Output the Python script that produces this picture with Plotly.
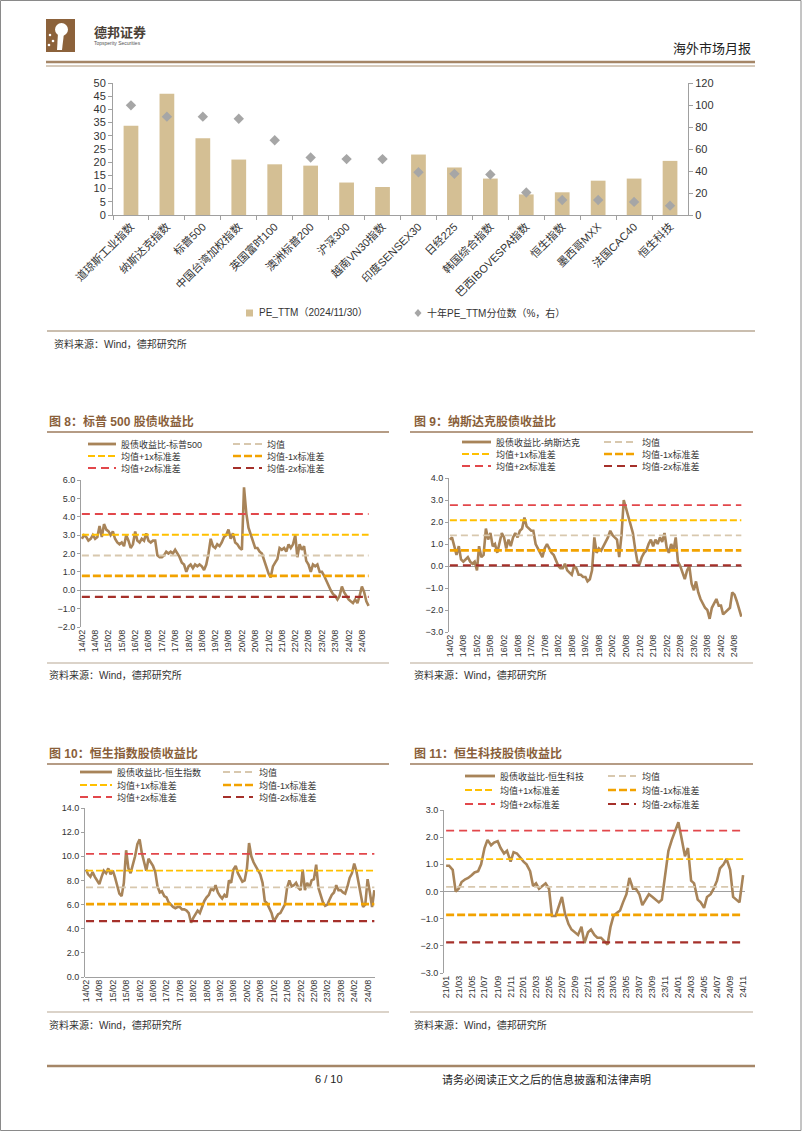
import plotly.graph_objects as go
import pandas as pd

W, H = 802, 1133


def X(p):
    return p / W


def Y(p):
    return 1 - p / H


FONT = "Liberation Sans, Arial, Noto Sans CJK SC, sans-serif"
TXT = "#333333"
AXIS_GRAY = "#A0A0A0"
TITLE_C = "#8A5F3A"
RULE_C = "#9C7B5C"
BAR_C = "#D4BF94"
DIAM_C = "#A6A6A6"
BROWN = "#A88459"
C_MEAN = "#D8C8AE"
C_P1 = "#FFC000"
C_M1 = "#F2A200"
C_P2 = "#E2474B"
C_M2 = "#A5302A"

# ---------------- top chart data ----------------
pe_names = ["道琼斯工业指数", "纳斯达克指数", "标普500", "中国台湾加权指数", "英国富时100",
            "澳洲标普200", "沪深300", "越南VN30指数", "印度SENSEX30", "日经225",
            "韩国综合指数", "巴西IBOVESPA指数", "恒生指数", "墨西哥MXX", "法国CAC40", "恒生科技"]
pe_ttm = [33.8, 45.9, 29.1, 21.0, 19.2, 18.7, 12.3, 10.6, 22.9, 18.0, 13.8, 7.8, 8.6, 13.0, 13.8, 20.5]
pe_pct = [99.7, 89.4, 89.4, 87.5, 68.0, 52.3, 50.8, 50.8, 38.9, 37.4, 36.8, 20.4, 13.7, 13.7, 11.9, 8.5]
pe_legend = ["PE_TTM（2024/11/30）", "十年PE_TTM分位数（%，右）"]

# ---------------- line charts data ----------------
ticks_14 = ["14/02", "14/08", "15/02", "15/08", "16/02", "16/08", "17/02", "17/08", "18/02", "18/08",
            "19/02", "19/08", "20/02", "20/08", "21/02", "21/08", "22/02", "22/08", "23/02", "23/08",
            "24/02", "24/08"]
ticks_21 = ["21/01", "21/03", "21/05", "21/07", "21/09", "21/11", "22/01", "22/03", "22/05", "22/07",
            "22/09", "22/11", "23/01", "23/03", "23/05", "23/07", "23/09", "23/11", "24/01", "24/03",
            "24/05", "24/07", "24/09", "24/11"]

sp500_erp = [2.8, 3.0, 2.9, 2.7, 2.8, 3.0, 2.8, 2.9, 3.5, 2.9, 3.6, 3.3,
             3.2, 3.0, 3.2, 2.8, 2.6, 2.5, 2.6, 2.4, 3.0, 2.7, 2.3, 2.5,
             3.2, 2.7, 2.6, 2.8, 2.7, 3.1, 2.7, 2.6, 2.7, 2.7, 1.9, 1.8,
             1.8, 1.9, 2.1, 2.0, 2.1, 2.0, 2.2, 2.0, 1.8, 1.5, 1.4, 1.0,
             1.3, 1.4, 1.2, 1.4, 1.3, 1.4, 1.3, 1.1, 1.4, 2.0, 2.8, 2.4,
             2.3, 2.5, 2.4, 2.6, 2.9, 3.0, 3.3, 2.8, 3.1, 2.6, 2.5, 2.3,
             2.2, 5.6, 4.2, 3.4, 3.0, 2.6, 2.3, 2.3, 2.1, 2.0, 1.6, 1.2,
             0.9, 0.7, 1.3, 1.5, 1.7, 2.3, 2.2, 2.3, 2.1, 2.5, 2.3, 2.5,
             3.0, 1.8, 2.5, 2.2, 2.4, 1.6, 1.4, 1.0, 1.4, 1.3, 1.4, 1.0,
             1.0, 0.8, 0.5, 0.3, 0.0, -0.2, -0.3, -0.5, -0.3, 0.2, -0.1, -0.3,
             -0.5, -0.6, -0.7, -0.5, -0.7, -0.3, 0.2, -0.1, -0.6, -0.85]
sp500_levels = [1.89, 3.02, 0.78, 4.15, -0.36]   # mean, +1x, -1x, +2x, -2x

nasdaq_erp = [1.2, 1.3, 0.9, 0.5, 0.9, 0.3, 0.2, 0.3, 0.4, 0.2, 0.1, 0.2,
              -0.2, 0.9, 0.4, 0.5, 1.7, 1.2, 1.5, 0.9, 1.0, 0.6, 1.1, 1.5,
              1.3, 0.8, 1.2, 0.9, 1.3, 1.5, 1.3, 1.6, 1.7, 2.2, 1.8, 1.7,
              1.6, 1.6, 1.0, 0.8, 0.6, 0.4, 0.8, 1.0, 0.8, 0.6, 0.5, 0.2,
              0.0, -0.1, -0.1, 0.1, -0.2, -0.3, -0.4, 0.0, -0.1, -0.4, -0.4, -0.5,
              -0.5, -0.7, -0.6, -0.2, 1.3, 0.6, 0.8, 0.7, 0.9, 1.1, 1.3, 1.6,
              1.4, 1.3, 1.2, 0.4, 1.4, 3.0, 2.6, 2.2, 1.8, 1.5, 0.8, 0.2,
              0.1, 0.4, 0.6, 0.7, 1.0, 1.2, 0.9, 1.2, 1.0, 1.3, 1.1, 1.5,
              0.8, 0.6, 1.0, 0.7, 1.3, 0.2, 0.0, -0.3, -0.6, -0.2, 0.0, -0.8,
              -1.1, -0.7, -1.2, -1.5, -1.7, -1.9, -2.0, -2.4, -1.9, -1.7, -1.5, -1.8,
              -1.8, -2.2, -2.1, -2.0, -1.9, -1.2, -1.3, -1.6, -2.0, -2.3]
nasdaq_levels = [1.39, 2.08, 0.71, 2.77, 0.03]

hsi_erp = [8.9, 8.5, 8.3, 8.7, 8.3, 8.0, 7.7, 8.3, 8.8, 8.6, 9.0, 8.5,
           8.8, 8.3, 7.5, 6.9, 6.7, 7.8, 10.5, 9.0, 8.6, 9.3, 10.0, 11.0,
           11.4, 10.3, 9.5, 8.8, 9.8, 9.5, 9.2, 8.7, 7.5, 7.0, 7.1, 6.7,
           6.6, 6.2, 6.0, 5.8, 5.7, 5.8, 5.8, 5.6, 5.6, 5.5, 5.3, 4.5,
           4.9, 5.2, 5.5, 5.3, 5.8, 6.3, 6.6, 6.8, 7.3, 7.2, 7.6, 7.0,
           6.7, 6.5, 6.8, 6.6, 8.0, 7.8, 8.9, 9.2, 8.6, 8.3, 7.9, 8.0,
           9.0, 11.1, 10.0, 9.5, 9.2, 8.8, 8.5, 7.8, 6.3, 6.1, 5.7, 5.3,
           4.6, 4.9, 5.2, 5.3, 5.6, 6.0, 7.4, 8.0, 7.5, 7.6, 7.8, 7.4,
           7.2, 8.9, 7.2, 7.8, 7.4, 8.0, 8.1, 9.3, 7.4, 6.8, 6.2, 5.9,
           6.0, 6.4, 6.8, 7.0, 7.6, 7.2, 7.2, 7.0, 6.9, 7.5, 8.2, 8.6,
           9.4, 8.8, 7.8, 6.5, 5.8, 6.0, 8.1, 7.0, 5.8, 7.2]
hsi_levels = [7.43, 8.82, 6.04, 10.2, 4.63]

hstech_erp = [0.95, 0.95, 0.8, 0.0, 0.1, 0.35, 0.45, 0.5, 0.6, 0.7, 0.75, 1.0,
              1.6, 1.9, 1.7, 1.8, 1.85, 1.6, 1.4, 1.5, 1.1, 1.45, 1.4, 1.25,
              1.1, 1.0, 0.75, 0.2, 0.3, 0.1, 0.2, 0.3, 0.1, -0.9, -0.9, -0.6,
              -0.2, -0.8, -1.2, -1.4, -1.5, -1.6, -1.3, -1.9, -1.5, -1.4, -1.6, -1.7,
              -1.7, -1.8, -1.95, -1.3, -0.9, -0.8, -0.7, -0.4, -0.1, 0.5, 0.1, 0.1,
              -0.1, -0.5, -0.3, -0.1, -0.2, -0.3, -0.4, -0.3, 0.7, 1.5, 1.9, 2.2,
              2.55, 2.0, 1.3, 1.6, 0.4, 0.3, -0.3, -0.4, -0.6, -0.2, -0.1, 0.1,
              0.4, 0.85, 1.0, 1.2, 0.8, -0.2, -0.3, -0.4, 0.6]
hstech_levels = [0.17, 1.19, -0.86, 2.24, -1.87]

level_names = ["均值", "均值+1x标准差", "均值-1x标准差", "均值+2x标准差", "均值-2x标准差"]
level_styles = [(C_MEAN, 1.8, "7px,4px"), (C_P1, 1.8, "7px,3px"), (C_M1, 2.6, "8px,3px"),
                (C_P2, 1.8, "8px,5px"), (C_M2, 2.2, "8px,5px")]

monthly = pd.date_range("2014-02-01", periods=130, freq="MS")
semi = pd.date_range("2021-01-01", periods=len(hstech_erp), freq="SMS")


def tick_dates(labels):
    return ["20%s-%s-01" % (t.split("/")[0], t.split("/")[1]) for t in labels]


charts = [
    dict(title="图 8：标普 500 股债收益比", name="股债收益比-标普500", x=monthly, y=sp500_erp,
         lv=sp500_levels, ticks=ticks_14, xr=["2014-01-20", "2024-11-20"], yr=[-2, 6], dy=1,
         px=(81, 370), py=(480, 627), tx=47, ty=421, rule=(47, 389, 432), bot=663, src=(47, 675),
         leg_rows=(444, 456, 468), c1=(88, 116, 119), c2=(233, 262, 265)),
    dict(title="图 9：纳斯达克股债收益比", name="股债收益比-纳斯达克", x=monthly, y=nasdaq_erp,
         lv=nasdaq_levels, ticks=ticks_14, xr=["2014-01-20", "2024-11-10"], yr=[-3, 4], dy=1,
         px=(449, 742), py=(478, 632), tx=412, ty=421, rule=(410, 753, 432), bot=663, src=(412, 675),
         leg_rows=(442, 454, 466), c1=(462, 491, 494), c2=(604, 637, 640)),
    dict(title="图 10：恒生指数股债收益比", name="股债收益比-恒生指数", x=monthly, y=hsi_erp,
         lv=hsi_levels, ticks=ticks_14, xr=["2014-01-18", "2024-11-10"], yr=[0, 14], dy=2,
         px=(85, 375), py=(808, 977), tx=47, ty=753, rule=(47, 389, 764), bot=1012, src=(47, 1025),
         leg_rows=(772, 785, 797), c1=(80, 112, 115), c2=(223, 253, 257)),
    dict(title="图 11：恒生科技股债收益比", name="股债收益比-恒生科技", x=semi, y=hstech_erp,
         lv=hstech_levels, ticks=ticks_21, xr=["2020-12-22", "2024-11-10"], yr=[-3, 3], dy=1,
         px=(444, 745), py=(810, 973), tx=412, ty=753, rule=(410, 753, 764), bot=1012, src=(412, 1025),
         leg_rows=(776, 790, 804), c1=(465, 495, 498), c2=(608, 636, 640)),
]

fig = go.Figure()
shapes = []
annotations = []


def add_text(px, py, text, size=10, color=TXT, anchor="left", bold=False, yanchor="middle"):
    annotations.append(dict(xref="paper", yref="paper", x=X(px), y=Y(py), text=("<b>%s</b>" % text) if bold else text,
                            showarrow=False, xanchor=anchor, yanchor=yanchor,
                            font=dict(family=FONT, size=size, color=color)))


def add_line(x0, y0, x1, y1, color, width, dash=None):
    ln = dict(color=color, width=width)
    if dash:
        ln["dash"] = dash
    shapes.append(dict(type="line", xref="paper", yref="paper", x0=X(x0), y0=Y(y0), x1=X(x1), y1=Y(y1), line=ln))


# ---------------- top bar chart ----------------
fig.add_trace(go.Bar(x=pe_names, y=pe_ttm, xaxis="x", yaxis="y", width=0.41,
                     marker=dict(color=BAR_C, line=dict(width=0)), showlegend=False))
fig.add_trace(go.Scatter(x=pe_names, y=pe_pct, xaxis="x", yaxis="y2", mode="markers",
                         marker=dict(symbol="diamond", size=8, color=DIAM_C), showlegend=False))

layout = dict(
    width=W, height=H, margin=dict(l=0, r=0, t=0, b=0, pad=0), autosize=False,
    paper_bgcolor="white", plot_bgcolor="white", showlegend=False,
    font=dict(family=FONT, color=TXT),
    xaxis=dict(domain=[X(113), X(688)], anchor="y", type="category", tickangle=-45, automargin=False,
               range=[-0.5, len(pe_names) - 0.5],
               tickfont=dict(size=11, color=TXT), showline=True, linecolor=AXIS_GRAY, linewidth=1,
               ticks="outside", tickson="boundaries", ticklen=4, tickcolor=AXIS_GRAY,
               showgrid=False, zeroline=False, fixedrange=True),
    yaxis=dict(domain=[Y(215), Y(83)], anchor="x", range=[0, 50], dtick=5, tick0=0, automargin=False,
               tickfont=dict(size=11, color=TXT), showline=True, linecolor=AXIS_GRAY,
               ticks="outside", ticklen=4, tickcolor=AXIS_GRAY, showgrid=False, zeroline=False),
    yaxis2=dict(overlaying="y", side="right", anchor="x", range=[0, 120], dtick=20, tick0=0, automargin=False,
                tickfont=dict(size=11, color=TXT), showline=True, linecolor=AXIS_GRAY,
                ticks="outside", ticklen=4, tickcolor=AXIS_GRAY, showgrid=False, zeroline=False),
)

# top chart legend
shapes.append(dict(type="rect", xref="paper", yref="paper", x0=X(246), x1=X(253), y0=Y(316.5), y1=Y(309.5),
                   fillcolor=BAR_C, line=dict(width=0)))
add_text(257, 313, pe_legend[0], size=10)
dx, dyy = 3.5, 4.0
shapes.append(dict(type="path", xref="paper", yref="paper",
                   path="M %f,%f L %f,%f L %f,%f L %f,%f Z" % (X(418 - dx), Y(313), X(418), Y(313 - dyy),
                                                             X(418 + dx), Y(313), X(418), Y(313 + dyy)),
                   fillcolor=DIAM_C, line=dict(width=0)))
add_text(425, 313, pe_legend[1], size=10)
add_line(47, 331, 755, 331, "#B8A894", 1.5)
add_text(52, 344, "资料来源：Wind，德邦研究所", size=10)

# ---------------- line charts ----------------
for i, c in enumerate(charts):
    n = i + 3
    xa, ya = "x%d" % n, "y%d" % n
    fig.add_trace(go.Scatter(x=c["x"], y=c["y"], xaxis=xa, yaxis=ya, mode="lines",
                             line=dict(color=BROWN, width=2.6), showlegend=False))
    for lvl, (col, wd, ds) in zip(c["lv"], level_styles):
        fig.add_trace(go.Scatter(x=[c["x"][0], c["x"][-1]], y=[lvl, lvl], xaxis=xa, yaxis=ya,
                                 mode="lines", line=dict(color=col, width=wd, dash=ds), showlegend=False))
    layout["xaxis%d" % n] = dict(domain=[X(c["px"][0]), X(c["px"][1])], anchor=ya, type="date",
                                 range=c["xr"], tickvals=tick_dates(c["ticks"]), ticktext=c["ticks"],
                                 tickangle=-90, tickfont=dict(size=9, color=TXT), showgrid=False,
                                 showline=False, zeroline=False, ticks="", automargin=False)
    layout["yaxis%d" % n] = dict(domain=[Y(c["py"][1]), Y(c["py"][0])], anchor=xa, range=c["yr"],
                                 dtick=c["dy"], tick0=0, tickformat=".1f", tickfont=dict(size=9, color=TXT),
                                 showline=True, linecolor=AXIS_GRAY, ticks="outside", ticklen=3,
                                 tickcolor=AXIS_GRAY, showgrid=False, zeroline=True, automargin=False,
                                 zerolinecolor=AXIS_GRAY, zerolinewidth=1)
    # title + rules + source
    add_text(c["tx"], c["ty"], c["title"], size=12, color=TITLE_C, bold=True)
    add_line(c["rule"][0], c["rule"][2], c["rule"][1], c["rule"][2], RULE_C, 1.5)
    add_line(c["rule"][0], c["bot"], c["rule"][1], c["bot"], "#B8A894", 1.2)
    add_text(c["src"][0], c["src"][1], "资料来源：Wind，德邦研究所", size=10)
    # legend
    r1, r2, r3 = c["leg_rows"]
    entries = [
        (c["c1"], r1, c["name"], (BROWN, 2.8, None)),
        (c["c2"], r1, level_names[0], level_styles[0]),
        (c["c1"], r2, level_names[1], level_styles[1]),
        (c["c2"], r2, level_names[2], level_styles[2]),
        (c["c1"], r3, level_names[3], level_styles[3]),
        (c["c2"], r3, level_names[4], level_styles[4]),
    ]
    for (xs0, xs1, xt), ry, label, (col, wd, ds) in entries:
        add_line(xs0, ry, xs1, ry, col, wd, ds)
        add_text(xt, ry, label, size=9)

# ---------------- page header / footer ----------------
# logo
shapes.append(dict(type="rect", xref="paper", yref="paper", x0=X(46), x1=X(75), y0=Y(52), y1=Y(19),
                   fillcolor="#8C623B", line=dict(width=0)))
shapes.append(dict(type="circle", xref="paper", yref="paper", x0=X(55), x1=X(68), y0=Y(36), y1=Y(23),
                   fillcolor="white", line=dict(width=0)))
shapes.append(dict(type="path", xref="paper", yref="paper",
                   path="M %f,%f L %f,%f L %f,%f L %f,%f Z" % (X(58), Y(33), X(64), Y(33), X(62), Y(50), X(57), Y(50)),
                   fillcolor="white", line=dict(width=0)))
for cx, cy in [(50, 35), (53, 41), (49, 45)]:
    shapes.append(dict(type="circle", xref="paper", yref="paper", x0=X(cx - 1.3), x1=X(cx + 1.3),
                       y0=Y(cy + 1.3), y1=Y(cy - 1.3), fillcolor="white", line=dict(width=0)))
add_text(92, 33, "德邦证券", size=13, color="#4A4036", bold=True)
add_text(92, 43, "Topsperity Securities", size=5, color="#555555")
add_text(753, 48, "海外市场月报", size=13, color="#222222", anchor="right")
add_line(46, 62, 755, 62, "#A58667", 2.5)
add_line(46, 66, 755, 66, "#C9B8A4", 1.5)

add_line(47, 1066, 755, 1066, "#A58667", 2.5)
add_text(329, 1079, "6 / 10", size=11, color="#222222", anchor="center")
add_text(440, 1079, "请务必阅读正文之后的信息披露和法律声明", size=11, color="#222222")

# page frame
shapes.append(dict(type="rect", xref="paper", yref="paper", x0=X(0.5), x1=X(801), y0=Y(1130.5), y1=Y(0.5),
                   line=dict(color="#8A8A8A", width=1), fillcolor="rgba(0,0,0,0)"))

layout["shapes"] = shapes
layout["annotations"] = annotations
fig.update_layout(**layout)
fig.write_html("out.html")
